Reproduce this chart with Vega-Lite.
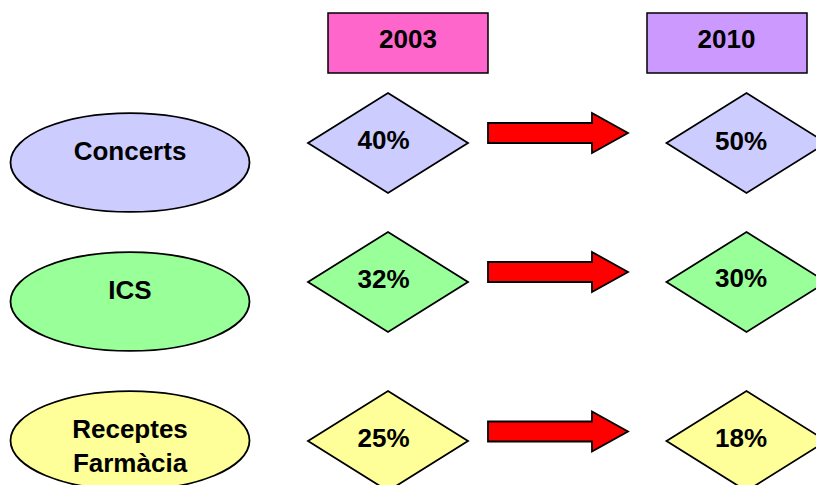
{
  "$schema": "https://vega.github.io/schema/vega-lite/v6.json",
  "width": 816,
  "height": 485,
  "autosize": "none",
  "padding": 0,
  "background": "white",
  "config": {"view": {"stroke": null}},
  "datasets": {
    "headers": [
      {"year": "2003", "x1": 328, "x2": 488, "y1": 13, "y2": 73, "tx": 408, "ty": 40},
      {"year": "2010", "x1": 647, "x2": 807, "y1": 13, "y2": 73, "tx": 726.5, "ty": 40}
    ],
    "ellipses": [
      {"key": "Concerts", "name": "Concerts", "x": 130, "y": 162.5, "tx": 130, "ty": 151.5},
      {"key": "ICS", "name": "ICS", "x": 130, "y": 301.5, "tx": 130, "ty": 291},
      {"key": "Receptes", "name": "Receptes\nFarmàcia", "x": 130, "y": 440.5, "tx": 130, "ty": 429.5}
    ],
    "diamonds": [
      {"key": "Concerts", "year": "2003", "value": 0.40, "x": 388, "y": 143, "tx": 383.5, "ty": 140.5},
      {"key": "Concerts", "year": "2010", "value": 0.50, "x": 746.5, "y": 143, "tx": 741, "ty": 141.5},
      {"key": "ICS", "year": "2003", "value": 0.32, "x": 388, "y": 282, "tx": 383.5, "ty": 279.5},
      {"key": "ICS", "year": "2010", "value": 0.30, "x": 746.5, "y": 282, "tx": 741, "ty": 279},
      {"key": "Receptes", "year": "2003", "value": 0.25, "x": 388, "y": 441, "tx": 383.5, "ty": 438.5},
      {"key": "Receptes", "year": "2010", "value": 0.18, "x": 746.5, "y": 441, "tx": 741, "ty": 438.5}
    ],
    "arrows": [
      {"key": "Concerts", "x": 558, "y": 133},
      {"key": "ICS", "x": 558, "y": 272},
      {"key": "Receptes", "x": 558, "y": 431.5}
    ]
  },
  "layer": [
    {
      "data": {"name": "headers"},
      "mark": {"type": "rect", "stroke": "black", "strokeWidth": 1.5},
      "encoding": {
        "x": {"field": "x1", "type": "quantitative", "scale": {"domain": [0, 816], "nice": false, "zero": false}, "axis": null},
        "x2": {"field": "x2"},
        "y": {"field": "y1", "type": "quantitative", "scale": {"domain": [0, 485], "nice": false, "zero": false, "reverse": true}, "axis": null},
        "y2": {"field": "y2"},
        "fill": {"field": "year", "type": "nominal", "scale": {"domain": ["Concerts", "ICS", "Receptes", "2003", "2010"], "range": ["#CCCCFF", "#99FF99", "#FFFF99", "#FF66CC", "#CC99FF"]}, "legend": null}
      }
    },
    {
      "data": {"name": "headers"},
      "mark": {"type": "text", "font": "Liberation Sans", "fontWeight": "bold", "fontSize": 26, "align": "center", "baseline": "middle", "color": "black"},
      "encoding": {
        "x": {"field": "tx", "type": "quantitative"},
        "y": {"field": "ty", "type": "quantitative"},
        "text": {"field": "year"}
      }
    },
    {
      "data": {"name": "ellipses"},
      "mark": {"type": "point", "filled": true, "opacity": 1, "stroke": "black", "strokeWidth": 1.8, "size": 57121, "shape": "M -1 0 C -1 -0.2287 -0.5523 -0.414 0 -0.414 C 0.5523 -0.414 1 -0.2287 1 0 C 1 0.2287 0.5523 0.414 0 0.414 C -0.5523 0.414 -1 0.2287 -1 0 Z"},
      "encoding": {
        "x": {"field": "x", "type": "quantitative"},
        "y": {"field": "y", "type": "quantitative"},
        "fill": {"field": "key", "type": "nominal", "legend": null}
      }
    },
    {
      "data": {"name": "ellipses"},
      "mark": {"type": "text", "font": "Liberation Sans", "fontWeight": "bold", "fontSize": 26, "align": "center", "baseline": "middle", "lineBreak": "\n", "lineHeight": 34, "color": "black"},
      "encoding": {
        "x": {"field": "tx", "type": "quantitative"},
        "y": {"field": "ty", "type": "quantitative"},
        "text": {"field": "name"}
      }
    },
    {
      "data": {"name": "diamonds"},
      "mark": {"type": "point", "filled": true, "opacity": 1, "stroke": "black", "strokeWidth": 1.8, "size": 25600, "shape": "M 0 -0.625 L 1 0 L 0 0.625 L -1 0 Z"},
      "encoding": {
        "x": {"field": "x", "type": "quantitative"},
        "y": {"field": "y", "type": "quantitative"},
        "fill": {"field": "key", "type": "nominal", "legend": null}
      }
    },
    {
      "data": {"name": "diamonds"},
      "mark": {"type": "text", "font": "Liberation Sans", "fontWeight": "bold", "fontSize": 26, "align": "center", "baseline": "middle", "color": "black"},
      "encoding": {
        "x": {"field": "tx", "type": "quantitative"},
        "y": {"field": "ty", "type": "quantitative"},
        "text": {"field": "value", "type": "quantitative", "format": ".0%"}
      }
    },
    {
      "data": {"name": "arrows"},
      "mark": {"type": "point", "filled": true, "opacity": 1, "fill": "#FF0000", "stroke": "black", "strokeWidth": 1.8, "size": 19600, "shape": "M -1 -0.1429 L 0.4857 -0.1429 L 0.4857 -0.2857 L 1 0 L 0.4857 0.2857 L 0.4857 0.1429 L -1 0.1429 Z"},
      "encoding": {
        "x": {"field": "x", "type": "quantitative"},
        "y": {"field": "y", "type": "quantitative"}
      }
    }
  ]
}
